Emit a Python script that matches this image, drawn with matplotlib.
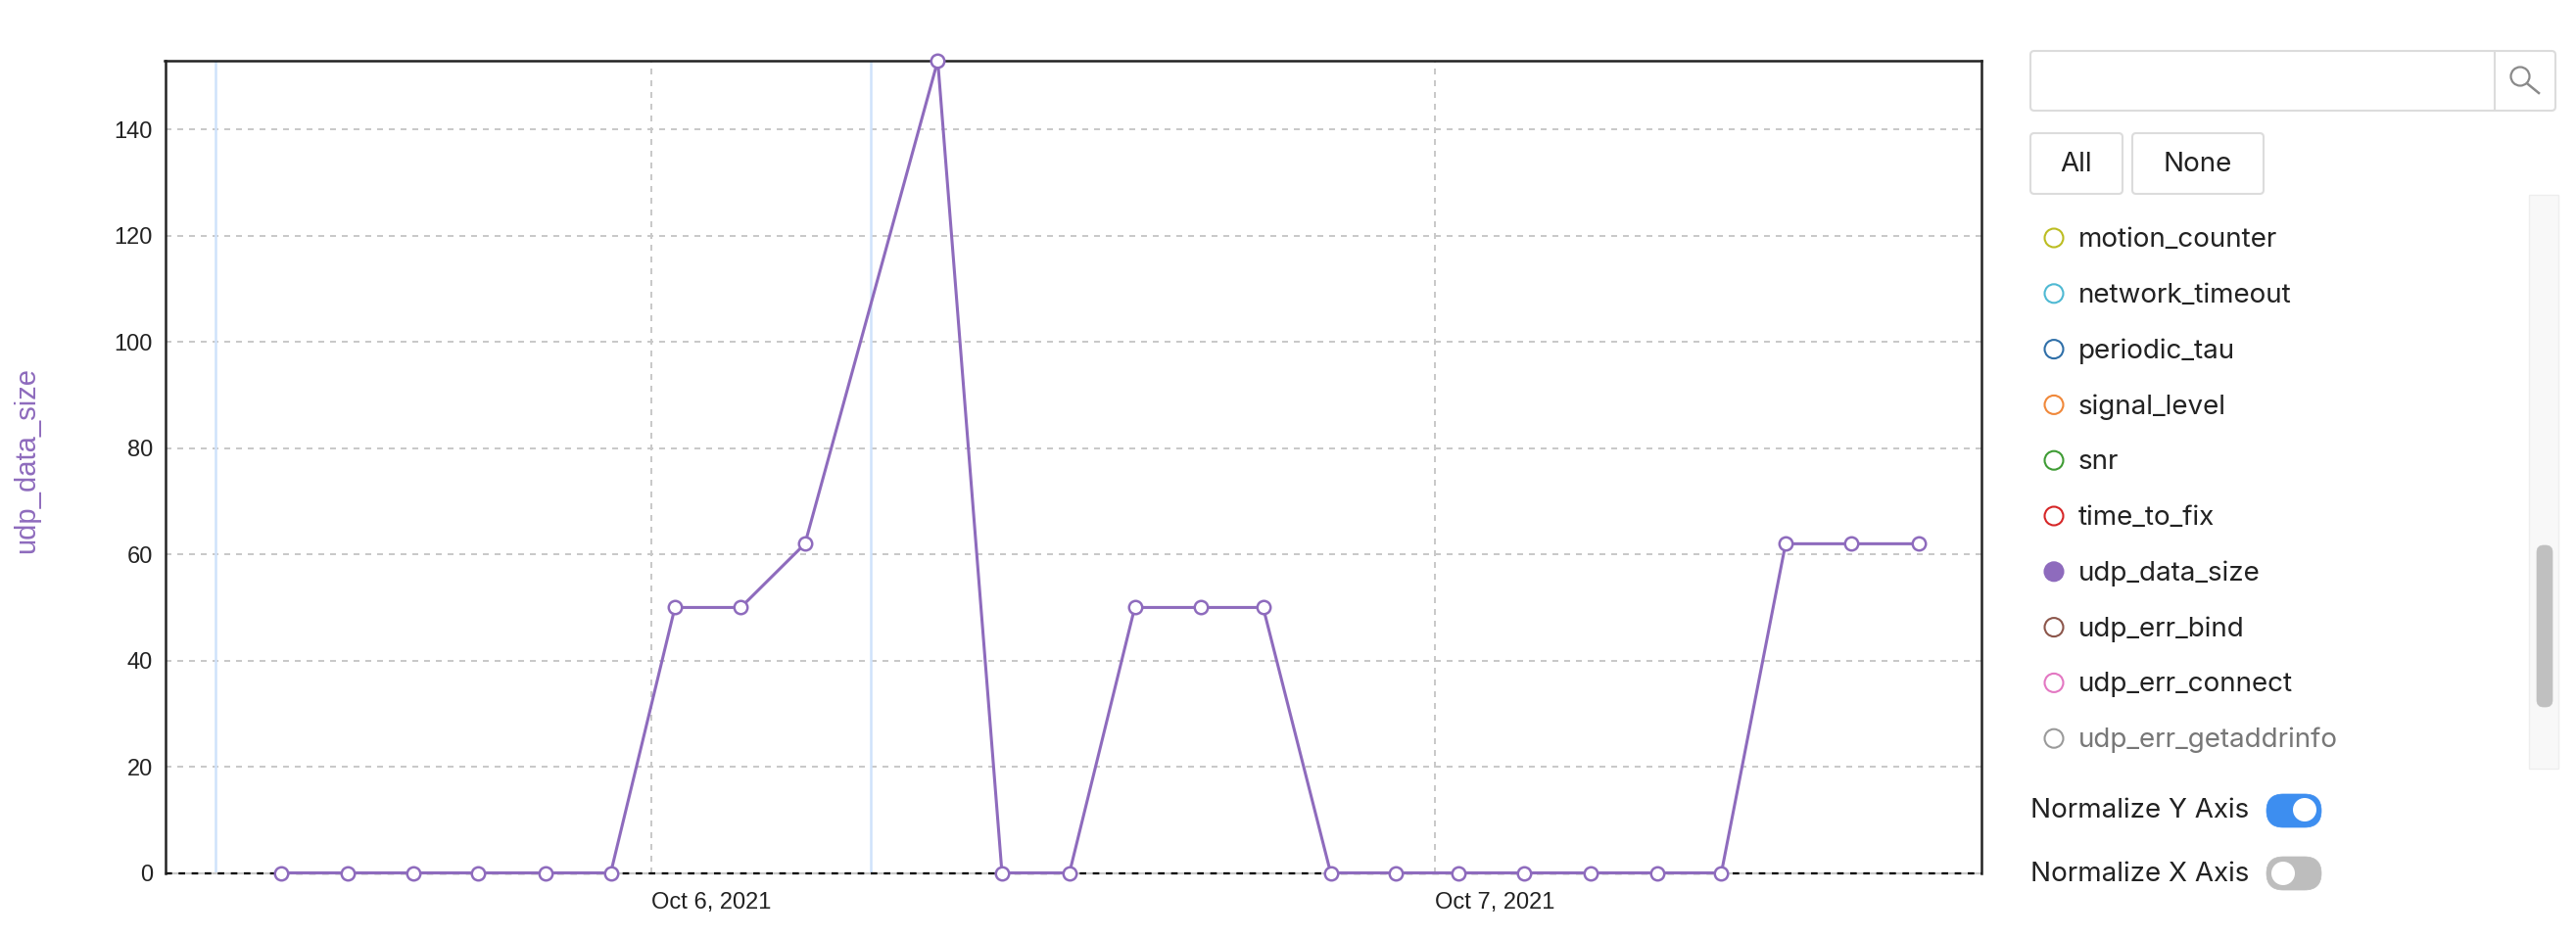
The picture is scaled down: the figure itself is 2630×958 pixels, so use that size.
#!/usr/bin/env python3
"""udp_data_size time series with the series picker panel on the right"""

import matplotlib
matplotlib.use('Agg')
import matplotlib.pyplot as plt
import pandas as pd
from matplotlib.patches import Circle, FancyBboxPatch, Rectangle

# data
timestamps = [
    '2021-10-05 12:39', '2021-10-05 14:42', '2021-10-05 16:43', '2021-10-05 18:41',
    '2021-10-05 20:45', '2021-10-05 22:45', '2021-10-06 00:43', '2021-10-06 02:44',
    '2021-10-06 04:42', '2021-10-06 08:46', '2021-10-06 10:44', '2021-10-06 12:48',
    '2021-10-06 14:48', '2021-10-06 16:50', '2021-10-06 18:44', '2021-10-06 20:48',
    '2021-10-06 22:48', '2021-10-07 00:43', '2021-10-07 02:44', '2021-10-07 04:45',
    '2021-10-07 06:48', '2021-10-07 08:46', '2021-10-07 10:44', '2021-10-07 12:45',
    '2021-10-07 14:48',
]
udp_data_size = [0, 0, 0, 0, 0, 0, 50, 50, 62, 153, 0, 0, 50, 50, 50,
                 0, 0, 0, 0, 0, 0, 0, 62, 62, 62]
event_times = ['2021-10-05 10:38', '2021-10-06 06:42']
date_ticks = ['2021-10-06', '2021-10-07']
date_labels = ['Oct 6, 2021', 'Oct 7, 2021']
y_ticks = [0, 20, 40, 60, 80, 100, 120, 140]
series_names = ['motion_counter', 'network_timeout', 'periodic_tau', 'signal_level', 'snr',
                'time_to_fix', 'udp_data_size', 'udp_err_bind', 'udp_err_connect',
                'udp_err_getaddrinfo']
series_colors = ['#bcbd22', '#4fb9d3', '#2f6fa8', '#f0883a', '#3f9c35',
                 '#d62728', '#8e6bbd', '#8c564b', '#e377c2', '#9a9a9a']

W, H = 2630, 958
purple = '#8e6bbd'
CHART_FONT = ['Liberation Sans', 'DejaVu Sans']
UI_FONT = ['Inter', 'DejaVu Sans']

fig = plt.figure(figsize=(W / 100, H / 100), dpi=100, facecolor='white')

# main chart
ax = fig.add_axes([168.5 / W, 1 - 891.5 / H, (2023 - 168.5) / W, (891.5 - 62) / H])
times = pd.to_datetime(timestamps)
ax.set_xlim(pd.Timestamp('2021-10-05 09:06'), pd.Timestamp('2021-10-07 16:44'))
ax.set_ylim(0, 153)

ax.set_yticks(y_ticks)
ax.set_xticks(pd.to_datetime(date_ticks))
ax.set_xticklabels(date_labels, ha='left', family=CHART_FONT, fontsize=17, color='#222222')
for label in ax.get_yticklabels():
    label.set_family(CHART_FONT)
    label.set_fontsize(17)
    label.set_color('#222222')
ax.tick_params(length=0, pad=9)
ax.tick_params(axis='x', pad=14)
ax.grid(True, color='#c9c9c9', linewidth=1.44, linestyle=(0, (3, 3)), zorder=1)
ax.set_axisbelow(True)

for t in event_times:
    ax.axvline(pd.Timestamp(t), color='#cfe2fb', linewidth=1.8, zorder=1.5)

# dark dashed baseline at zero, grey showing through the gaps
ax.axhline(0, color='#c9c9c9', linewidth=1.6, zorder=2, clip_on=False)
ax.axhline(0, color='black', linewidth=1.6, linestyle=(0, (3, 3)), zorder=2.1, clip_on=False)

ax.plot(times, udp_data_size, color=purple, linewidth=2.2, marker='o', markersize=9.7,
        markerfacecolor='white', markeredgecolor=purple, markeredgewidth=1.8,
        clip_on=False, zorder=5)

for spine in ax.spines.values():
    spine.set_color('#222222')
    spine.set_linewidth(1.8)
ax.spines['bottom'].set_visible(False)

fig.text(27 / W, 1 - 470 / H, 'udp_data_size', rotation=90, ha='center', va='center',
         color=purple, fontsize=21, family=CHART_FONT)

# panel drawn on an overlay in pixel coordinates
ui = fig.add_axes([0, 0, 1, 1], facecolor='none')
ui.set_xlim(0, W)
ui.set_ylim(H, 0)
ui.axis('off')


def box(x0, y0, x1, y1, fc='white', ec='#dcdcdc', lw=1.5, rad=4, z=2):
    ui.add_patch(FancyBboxPatch((x0, y0), x1 - x0, y1 - y0, boxstyle=f'round,pad=0,rounding_size={rad}',
                                facecolor=fc, edgecolor=ec, linewidth=lw, zorder=z))


# search box
box(2073, 52, 2609, 113)
ui.plot([2547, 2547], [53, 112], color='#dcdcdc', linewidth=1.5, zorder=3)
ui.add_patch(Circle((2573, 78), 9.5, facecolor='none', edgecolor='#8a8a8a', linewidth=1.6, zorder=3))
ui.plot([2581, 2592], [86, 95], color='#8a8a8a', linewidth=1.8, zorder=3)

# All / None buttons
box(2073, 136, 2167, 198)
box(2177, 136, 2311, 198)
ui.text(2120, 168, 'All', ha='center', va='center', fontsize=20, color='#222222', family=UI_FONT)
ui.text(2244, 168, 'None', ha='center', va='center', fontsize=20, color='#222222', family=UI_FONT)

# scroll bar
ui.add_patch(Rectangle((2582, 199), 30, 586, facecolor='#f8f8f8', edgecolor='#eeeeee', linewidth=1, zorder=1))
box(2590, 557, 2606, 722, fc='#c0c0c0', ec='#c0c0c0', lw=0.5, rad=7)

# series list
row_y = 243
for i, (name, col) in enumerate(zip(series_names, series_colors)):
    y = row_y + i * 56.8
    filled = name == 'udp_data_size'
    ui.add_patch(Circle((2097, y), 9.5, facecolor=col if filled else 'white', edgecolor=col,
                        linewidth=1.5, zorder=3))
    faded = name == 'udp_err_getaddrinfo'
    ui.text(2122, y + 2, name, ha='left', va='center', fontsize=20, family=UI_FONT,
            color='#777777' if faded else '#222222', zorder=3)

# toggles
ui.text(2073, 828, 'Normalize Y Axis', ha='left', va='center', fontsize=20, color='#222222', family=UI_FONT)
box(2314, 811, 2370, 845, fc='#3d8ef0', ec='#3d8ef0', lw=0.5, rad=17)
ui.add_patch(Circle((2353, 827), 12, facecolor='white', edgecolor='none', zorder=3))

ui.text(2073, 893, 'Normalize X Axis', ha='left', va='center', fontsize=20, color='#222222', family=UI_FONT)
box(2314, 875, 2370, 909, fc='#bdbdbd', ec='#bdbdbd', lw=0.5, rad=17)
ui.add_patch(Circle((2331, 892), 12, facecolor='white', edgecolor='none', zorder=3))

fig.savefig('out.png', dpi=100, facecolor='white')
plt.close(fig)
